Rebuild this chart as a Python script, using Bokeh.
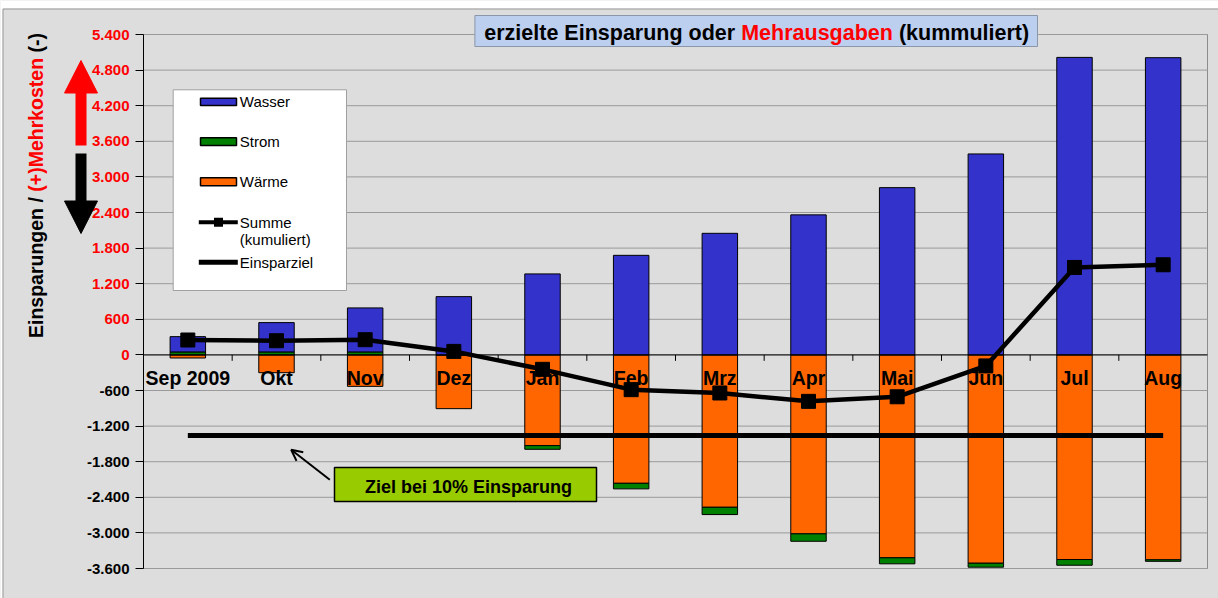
import math
from bokeh.plotting import figure
from bokeh.models import (FactorRange, Range1d, FixedTicker, Label, LabelSet, LinearAxis,
                          ColumnDataSource, BoxAnnotation, PolyAnnotation, Arrow, OpenHead)
from bokeh.transform import dodge
from bokeh.core.properties import value
from bokeh.embed import file_html
from bokeh.resources import INLINE

# ---------------- data ----------------
months = ["Sep 2009", "Okt", "Nov", "Dez", "Jan", "Feb", "Mrz", "Apr", "Mai", "Jun", "Jul", "Aug"]
wasser = [258, 494, 742, 982, 1365, 1678, 2049, 2360, 2819, 3387, 5014, 5009]
strom = [50, 50, 50, 0, -62, -94, -123, -125, -101, -67, -96, -25]
waerme = [-52, -300, -530, -906, -1529, -2164, -2568, -3016, -3420, -3511, -3449, -3454]
summe = [251, 239, 256, 59, -243, -586, -642, -783, -706, -186, 1474, 1519]
einsparziel = [-1360, -1360, -1360, -1360, -1360, -1360, -1360, -1360, -1360, -1360, -1360, -1360]
y_ticks = [-3600, -3000, -2400, -1800, -1200, -600, 0, 600, 1200, 1800, 2400, 3000, 3600, 4200, 4800, 5400]
y_tick_labels = ["-3.600", "-3.000", "-2.400", "-1.800", "-1.200", "-600", "0", "600", "1.200",
                 "1.800", "2.400", "3.000", "3.600", "4.200", "4.800", "5.400"]
series_names = ["Wasser", "Strom", "Wärme"]
legend_extra = ["Summe", "(kumuliert)", "Einsparziel"]
title_parts = ["erzielte Einsparung oder", "Mehrausgaben", "(kummuliert)"]
ylabel_parts = ["Einsparungen /", "(+)Mehrkosten", "(-)"]
note_text = "Ziel bei 10% Einsparung"

FONT = "Liberation Sans"
BG = "#DDDDDD"
C_WASSER = "#3333CC"
C_STROM = "#008000"
C_WAERME = "#FF6600"

# ---------------- layout geometry (page px) ----------------
W, H = 1218, 598
PL, PR, PT, PB = 143, 1207, 34, 568          # plot area edges
YMIN, YMAX = -3600, 5400
UPX = (YMAX - YMIN) / (PB - PT)               # data units per px
CW = (PR - PL) / len(months)                  # category width in px
RPAD = (W - PR) / CW                          # right padding (category units)
GPAD = PL / CW - 1 - RPAD                     # gap between spacer group and months

# the frame covers the whole canvas so that titles/arrows left of the axis are drawn
cats = [("m", m) for m in months]
x_range = FactorRange(factors=[("_", "_")] + cats, range_padding=RPAD,
                      range_padding_units="absolute", group_padding=GPAD, factor_padding=0)
y_range = Range1d(YMIN - (H - PB) * UPX, YMAX + PT * UPX)

p = figure(width=W, height=H, x_range=x_range, y_range=y_range,
           output_backend="svg", toolbar_location=None,
           x_axis_location=None, y_axis_location=None,
           min_border=0, background_fill_color=BG, border_fill_color=BG)
p.outline_line_color = None
p.grid.visible = False


def SX(X):  # page x -> screen x
    return X


def SY(Y):  # page y -> screen y (measured up from the bottom)
    return H - Y


def box(x0, x1, y0, y1, fill, line=None, lw=1, falpha=1.0, level="annotation"):
    return BoxAnnotation(left=SX(x0), right=SX(x1), top=SY(y0), bottom=SY(y1),
                         left_units="screen", right_units="screen",
                         top_units="screen", bottom_units="screen", level=level,
                         fill_color=fill, fill_alpha=falpha,
                         line_color=line, line_alpha=1 if line else 0, line_width=lw)


def label(x, y, txt, size, color="black", bold=True, align="left", baseline="alphabetic", angle=0.0):
    return Label(x=SX(x), y=SY(y), text=txt, x_units="screen", y_units="screen", angle=angle,
                 text_align=align, text_baseline=baseline, text_color=color, text_font=FONT,
                 text_font_style="bold" if bold else "normal", text_font_size=size)


def poly(xs, ys, fill):
    return PolyAnnotation(xs=[SX(x) for x in xs], ys=[SY(y) for y in ys],
                          xs_units="screen", ys_units="screen",
                          fill_color=fill, fill_alpha=1, line_color=fill, line_alpha=1, line_width=1)


# ---------------- outer chart frame ----------------
p.add_layout(box(0, W, 0, 8, "white", level="underlay"))
p.add_layout(box(0, 2, 0, H, "white", level="underlay"))
p.add_layout(box(2.5, W + 5, 8.5, H + 5, BG, "#9A9A9A", 1, falpha=0.0, level="underlay"))
p.add_layout(box(PL, PR, PT, PB, BG, "#8C8C8C", 1, falpha=0.0, level="underlay"))

# ---------------- grid lines (plot area only) ----------------
grid_src = ColumnDataSource(dict(y=y_ticks, xl=[cats[0]] * len(y_ticks), xr=[cats[-1]] * len(y_ticks)))
p.segment(x0=dodge("xl", -0.5, range=x_range), x1=dodge("xr", 0.5, range=x_range),
          y0="y", y1="y", line_color="#9A9A9A", line_width=1, source=grid_src)

# ---------------- y axis ----------------
ax = LinearAxis(fixed_location=1 + GPAD, bounds=(YMIN, YMAX))
ax.ticker = FixedTicker(ticks=y_ticks)
ax.major_label_overrides = {t: (l if t >= 0 else "") for t, l in zip(y_ticks, y_tick_labels)}
ax.major_label_text_color = "#FF0000"
ax.major_label_text_font = FONT
ax.major_label_text_font_style = "bold"
ax.major_label_text_font_size = "15px"
ax.major_label_standoff = 6
ax.major_tick_out = 8
ax.major_tick_in = 0
ax.minor_tick_out = 0
ax.minor_tick_in = 0
ax.axis_line_color = "black"
ax.major_tick_line_color = "black"
p.add_layout(ax, "left")

neg = [(t, l) for t, l in zip(y_ticks, y_tick_labels) if t < 0]
neg_src = ColumnDataSource(dict(y=[t for t, _ in neg], text=[l for _, l in neg]))
p.add_layout(LabelSet(x=SX(PL - 14), y="y", text="text", source=neg_src, x_units="screen",
                      text_align="right", text_baseline="middle", text_color="black",
                      text_font=value(FONT), text_font_style="bold", text_font_size="15px"))

# ---------------- stacked bars (Excel style: + up, - down) ----------------
pos = [0.0] * len(months)
negs = [0.0] * len(months)
for vals, col in [(waerme, C_WAERME), (strom, C_STROM), (wasser, C_WASSER)]:
    bots, tops = [], []
    for i, v in enumerate(vals):
        if v >= 0:
            bots.append(pos[i]); tops.append(pos[i] + v); pos[i] += v
        else:
            tops.append(negs[i]); bots.append(negs[i] + v); negs[i] += v
    p.vbar(x=cats, bottom=bots, top=tops, width=0.4, fill_color=col,
           line_color="black", line_width=1)

# zero line and category ticks between categories
p.segment(x0=dodge("xl", -0.5, range=x_range), x1=dodge("xr", 0.5, range=x_range),
          y0=0, y1=0, line_color="black", line_width=1,
          source=ColumnDataSource(dict(xl=[cats[0]], xr=[cats[-1]])))
tick_src = ColumnDataSource(dict(x=cats[1:]))
p.segment(x0=dodge("x", -0.5, range=x_range), x1=dodge("x", -0.5, range=x_range),
          y0=0, y1=-100, line_color="black", line_width=1, source=tick_src)

# Einsparziel and Summe
p.line(cats, einsparziel, line_width=5, line_color="black")
p.line(cats, summe, line_width=4.5, line_color="black")
p.scatter(cats, summe, marker="square", size=14, fill_color="black", line_color="black")

# category labels at the zero line
p.text(x=cats, y=0, text=months, text_align="center", text_baseline="alphabetic",
       y_offset=23.5, text_font=value(FONT), text_font_style="bold",
       text_font_size="19.5px", text_color="black")

# ---------------- legend (Excel layout) ----------------
p.add_layout(box(172.7, 346, 89.3, 290, "white", "#A0A0A0", 1))
for (y0, y1), col in zip([(97.7, 105), (137.3, 145), (177.3, 185.3)], [C_WASSER, C_STROM, C_WAERME]):
    p.add_layout(box(200, 236, y0, y1, col, "black", 1.5))
p.add_layout(box(198.3, 237.3, 219.7, 223.7, "black"))
p.add_layout(box(213.5, 222.5, 217.2, 226.2, "black"))
p.add_layout(box(198.3, 237.3, 259.2, 264.2, "black"))
for y, txt in zip([101, 141, 181, 222, 238.5, 261.5], series_names + legend_extra):
    p.add_layout(label(239.3, y, txt, "15px", bold=False))

# ---------------- title box ----------------
p.add_layout(box(474.4, 1037, 15, 46, "#BDCFEF", "#8A96AA", 1))
for xx, txt, col in zip([483.8, 740.7, 898.4], title_parts, ["black", "#FF0000", "black"]):
    p.add_layout(label(xx, 32.1, txt, "21.5px", color=col))

# ---------------- y axis title (multi-colour, vertical) ----------------
for yy, txt, col in zip([337.5, 191.2, 52.0], ylabel_parts, ["black", "#FF0000", "black"]):
    p.add_layout(label(35, yy, txt, "19.5px", color=col, baseline="middle", angle=math.pi / 2))

# big arrows left of the axis
p.add_layout(box(75, 86, 92, 145, "#FF0000"))
p.add_layout(poly([64, 97, 80.5], [92.5, 92.5, 60], "#FF0000"))
p.add_layout(box(75, 86, 153, 201, "black"))
p.add_layout(poly([64, 97, 80.5], [200.5, 200.5, 233], "black"))

# ---------------- "Ziel" note ----------------
p.add_layout(box(334, 596, 467, 501, "#99CC00", "black", 1.5))
p.add_layout(label(468, 486.7, note_text, "18px", align="center"))
p.add_layout(Arrow(x_start=SX(329.3), y_start=SY(479.3), x_end=SX(290.7), y_end=SY(449.3),
                   start_units="screen", end_units="screen", line_width=2, line_color="black",
                   end=OpenHead(size=11, line_width=2, line_color="black")))

open("out.html", "w").write(file_html(p, INLINE))
